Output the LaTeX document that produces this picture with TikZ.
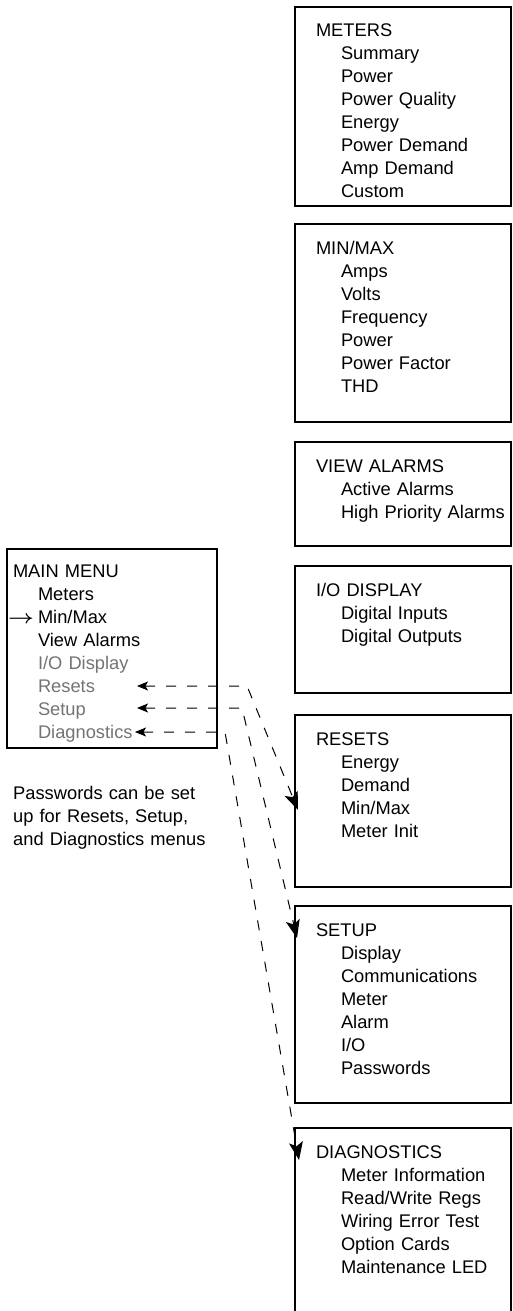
\documentclass[tikz,border=0pt]{standalone}
\usepackage{fontspec}
\setmainfont{Liberation Sans}
\usepackage{graphicx}
\usetikzlibrary{positioning, arrows.meta}

\colorlet{dimtext}{black!55}
\newcommand{\subitm}[1]{\hspace*{25pt}\mbox{#1}}

\tikzset{
  menubox/.style={
    rectangle,
    draw=black,
    line width=1.2pt,
    outer sep=0pt,
    inner xsep=21pt,
    inner ysep=17pt,
    text width=174pt,
    text height=13pt,
    text depth=#1,
    align=left,
    font=\fontsize{18.3}{23}\selectfont},
  mainbox/.style={
    menubox=#1,
    inner xsep=6pt,
    inner ysep=15pt,
    text width=198pt},
  note/.style={
    align=left,
    text width=220pt,
    text height=13pt,
    inner sep=0pt,
    font=\fontsize{18.3}{23}\selectfont},
  link/.style={
    draw,
    line width=1pt,
    dash pattern=on 10pt off 11pt,
    {Stealth[length=11pt,width=9pt,inset=2.5pt,fill=black]}-{Stealth[length=18pt,width=14pt,inset=4pt,fill=black]}},
}

\begin{document}
\begin{tikzpicture}[x=1pt, y=-1pt]
	\path[use as bounding box, clip] (0,0) rectangle (512,1311);

	% main menu and the note below it
	\node [mainbox=156pt, anchor=north west] (mainmenu) at (7,549) {MAIN MENU\\
		\subitm{Meters}\\
		\subitm{\llap{\scalebox{1.3}[1.1]{\boldmath$\rightarrow$}\hspace{4pt}}Min/Max}\\
		\subitm{View Alarms}\\
		\subitm{\textcolor{dimtext}{I/O Display}}\\
		\subitm{\textcolor{dimtext}{Resets}}\\
		\subitm{\textcolor{dimtext}{Setup}}\\
		\subitm{\textcolor{dimtext}{Diagnostics}}};
	\node [note, below right=38pt and 6pt of mainmenu.south west] (pwnote) {Passwords can be set\\
		up for Resets, Setup,\\
		and Diagnostics menus};

	% sub menus
	\node [menubox=152pt, anchor=north west] (meters) at (295,7) {METERS\\
		\subitm{Summary}\\
		\subitm{Power}\\
		\subitm{Power Quality}\\
		\subitm{Energy}\\
		\subitm{Power Demand}\\
		\subitm{Amp Demand}\\
		\subitm{Custom}};
	\node [menubox=151pt, below=18pt of meters] (minmax) {MIN/MAX\\
		\subitm{Amps}\\
		\subitm{Volts}\\
		\subitm{Frequency}\\
		\subitm{Power}\\
		\subitm{Power Factor}\\
		\subitm{THD}};
	\node [menubox=57pt, below=20pt of minmax] (viewalarms) {VIEW ALARMS\\
		\subitm{Active Alarms}\\
		\subitm{High Priority Alarms}};
	\node [menubox=80pt, below=20pt of viewalarms] (iodisplay) {I/O DISPLAY\\
		\subitm{Digital Inputs}\\
		\subitm{Digital Outputs}};
	\node [menubox=125pt, below=22pt of iodisplay] (resets) {RESETS\\
		\subitm{Energy}\\
		\subitm{Demand}\\
		\subitm{Min/Max}\\
		\subitm{Meter Init}};
	\node [menubox=150pt, below=19pt of resets] (setup) {SETUP\\
		\subitm{Display}\\
		\subitm{Communications}\\
		\subitm{Meter}\\
		\subitm{Alarm}\\
		\subitm{I/O}\\
		\subitm{Passwords}};
	\node [menubox=200pt, below=25pt of setup] (diag) {DIAGNOSTICS\\
		\subitm{Meter Information}\\
		\subitm{Read/Write Regs}\\
		\subitm{Wiring Error Test}\\
		\subitm{Option Cards}\\
		\subitm{Maintenance LED}};

	% protected menus
	\coordinate (resetsptr) at (137,686);
	\coordinate (setupptr) at (137,708);
	\coordinate (diagptr) at (135,732);
	\coordinate (resetsin) at ([xshift=3pt, yshift=-95pt]resets.north west);
	\coordinate (setupin) at ([xshift=2pt, yshift=-32pt]setup.north west);
	\coordinate (diagin) at ([xshift=4pt, yshift=-32pt]diag.north west);

	\draw [link] (resetsptr) -- ++(110,0) -- (resetsin);
	\draw [link] (setupptr) -- ++(105,0) -- (setupin);
	\draw [link] (diagptr) -- ++(90,0) -- (diagin);
\end{tikzpicture}
\end{document}
